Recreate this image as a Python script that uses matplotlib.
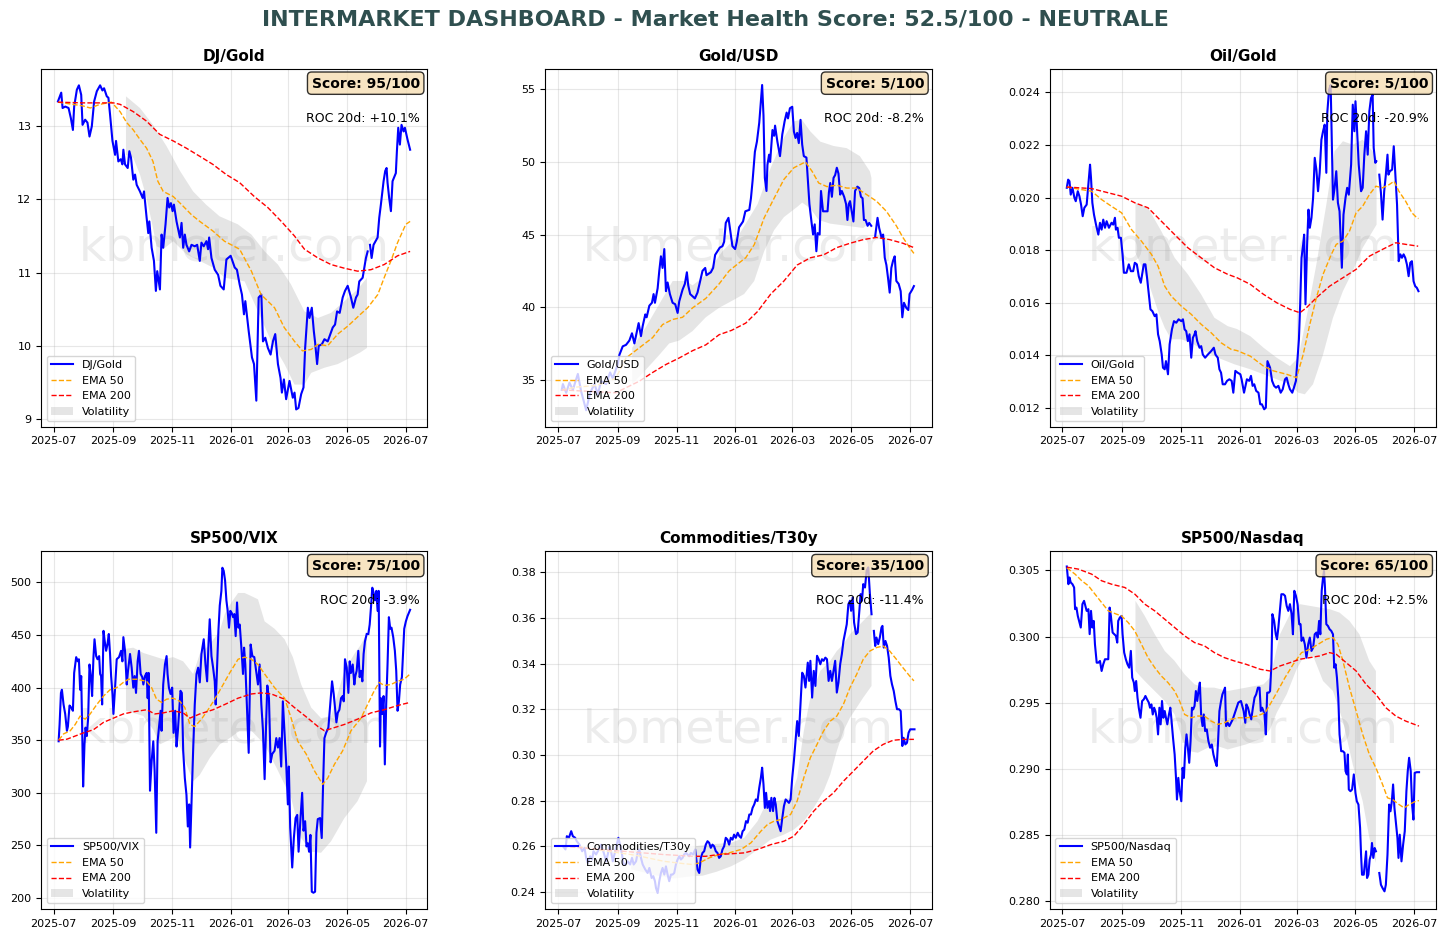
import numpy as np
import pandas as pd
import matplotlib
matplotlib.use('Agg')
import matplotlib.pyplot as plt
import matplotlib.dates as mdates
from matplotlib.patches import Patch

nan = float('nan')
BASE = pd.Timestamp('2025-07-01')   # day offsets below are counted from this date

# ---------------- chart texts ----------------
suptitle_text = 'INTERMARKET DASHBOARD - Market Health Score: 52.5/100 - NEUTRALE'
titles = ['DJ/Gold', 'Gold/USD', 'Oil/Gold', 'SP500/VIX', 'Commodities/T30y', 'SP500/Nasdaq']
scores = [95, 5, 5, 75, 35, 65]
roc20 = [10.1, -8.2, -20.9, -3.9, -11.4, 2.5]
ylims = [(8.895, 13.783), (31.77, 56.40), (0.01129, 0.024886),
         (189.5, 529.5), (0.2326, 0.3892), (0.27937, 0.30644)]

# ---------------- DJ/Gold ----------------
dj_price = [(4.5,13.34),(7.9,13.46),(9.3,13.25),(12.1,13.27),(15.5,13.25),(17.9,13.11),(20,12.95),(21.3,13.27),(24.1,13.50),(26.2,13.56),
(28.6,13.43),(30,13.02),(32.7,13.09),(35.1,13.05),(37.2,12.86),(39.6,13.00),(42,13.34),(44.8,13.48),(48.2,13.56),(50.6,13.49),
(52.3,13.52),(55.1,13.41),(56.8,13.39),(58.5,13.16),(61,12.80),(63.7,12.61),(64.7,12.80),(67.1,12.52),(69.6,12.55),(71.3,12.48),
(72.3,12.68),(74,12.48),(76.8,12.43),(78.5,12.66),(80.2,12.57),(82.6,12.27),(84.4,12.34),(86.1,12.20),(89.5,12.11),(92.3,12.02),
(93.7,12.11),(96.4,11.75),(98.1,11.54),(99.2,11.70),(101.6,11.34),(104,11.16),(106,10.75),(107.4,11.02),(110.2,10.77),(111.9,11.52),
(113.6,11.34),(116,11.66),(118.1,12.02),(119.8,11.89),(121.6,11.95),(123.3,11.84),(124.7,11.93),(127.4,11.70),(130.9,11.48),(132.6,11.68),
(134.3,11.34),(136,11.52),(137.7,11.38),(140.5,11.29),(142.9,11.38),(146.3,11.36),(148.8,11.38),(151.5,11.16),(153.2,11.41),(155.6,11.36),
(158.4,11.43),(160.1,11.32),(161.2,11.48),(163.6,11.20),(167,11.04),(170.5,10.97),(172.9,10.82),(176.3,10.77),(179.1,11.18),(183.5,11.23),
(187.7,11.07),(190,11.04),(192.8,10.84),(195.2,10.70),(197.3,10.43),(198.7,10.61),(202.2,10.20),(205.6,9.84),(207.7,9.75),(210.1,9.25),
(212.5,10.66),(215.3,10.70),(217,10.06),(219.4,10.11),(222.1,9.97),(224.9,9.88),(227.3,10.06),(229.7,10.16),(232.5,9.75),(235.2,9.56),
(236.6,9.36),(238.7,9.54),(241,9.27),(244.5,9.52),(247.9,9.29),(249.7,9.36),(251.4,9.13),(253.8,9.15),(256.6,9.34),(259,9.43),
(260.7,9.97),(263.5,10.52),(265.2,10.38),(267.6,10.52),(269.7,10.20),(271,10.05),(273.1,9.75),(274.8,10.00),(278,10.02),(280.7,10.09),
(284.1,10.06),(286.9,10.16),(289.3,10.25),(291.7,10.29),(293.8,10.47),(296.5,10.45),(299.6,10.66),(302,10.75),(304.8,10.82),(308.2,10.66),
(310.6,10.52),(313.4,10.66),(315.1,10.70),(316.8,10.88),(320.3,10.93),(323.7,11.20),(325.5,11.29),(326.7,nan),(327.9,11.38),(329.6,11.20),
(331.6,11.38),(335.8,11.48),(337.5,11.75),(339.2,11.93),(342,12.25),(343.7,12.39),(345.1,12.43),(346.1,12.23),(347.8,12.02),(349.6,11.84),
(351.3,12.25),(354.7,12.36),(355.8,12.66),(357.2,12.98),(358.9,12.75),(360.6,13.02),(362.7,12.93),(364.1,12.98),(366.8,12.82),(369.5,12.68)]
dj_ema50 = [(4.5,13.33),(20,13.30),(30,13.28),(38,13.25),(48,13.30),(60,13.33),(68.9,13.20),(75.8,13.05),(82.6,12.95),(89.5,12.82),
(96.4,12.70),(103,12.52),(108,12.25),(113.6,12.11),(124,12.04),(132.6,11.93),(143,11.79),(151.5,11.70),(165,11.57),(177,11.43),
(192.8,11.32),(205,11.02),(215,10.70),(229,10.52),(239,10.25),(249.7,10.06),(258,9.93),(267,9.95),(274,10.02),(284,10.00),
(294.5,10.16),(305,10.27),(318,10.43),(325.5,10.52),(336,10.70),(342.6,10.93),(349.6,11.16),(356.5,11.41),(365,11.66),(369.5,11.70)]
dj_ema200 = [(4.5,13.33),(31,13.32),(62,13.32),(68.9,13.30),(82.6,13.20),(96.4,13.07),(110,12.89),(124,12.80),(137.7,12.70),(151.5,12.59),
(165,12.48),(179,12.34),(192.8,12.23),(208,12.04),(222,11.89),(236,11.70),(249.7,11.50),(260,11.32),(274,11.20),(287.6,11.11),
(301.4,11.06),(315,11.02),(328.9,11.04),(342.6,11.11),(356.5,11.23),(369.5,11.29)]
dj_band_hi = [(75,13.41),(89.5,13.25),(103,13.02),(117,12.73),(131,12.39),(144.6,12.11),(158,11.93),(172,11.77),(191,11.66),(205,11.52),
(218.7,11.29),(232.5,11.11),(246,10.84),(260,10.47),(274,10.38),(287.6,10.45),(301.4,10.61),(315,10.77),(324.8,10.93)]
dj_band_lo = [(75,12.61),(82.6,12.57),(89.5,12.34),(96.4,12.02),(103,11.61),(106.7,11.36),(113.6,11.32),(124,11.43),(137.7,11.25),(151.5,11.16),
(165,11.07),(177.4,10.93),(198,10.88),(211.8,10.47),(225.6,10.06),(239.3,9.75),(249.7,9.47),(260,9.47),(267,9.63),(280.7,9.70),
(294.5,9.75),(308,9.84),(318,9.91),(324.8,9.97)]

# ---------------- Gold/USD ----------------
gu_price = [(4,34.3),(5.2,34.7),(8.6,34.1),(12,34.8),(15.5,34.3),(20.7,35.4),(24.1,34.2),(29.3,32.9),(33.4,34.1),(37.9,34.7),
(41.4,34.0),(44.8,34.9),(50,34.7),(54.1,35.5),(56.9,35.1),(62,36.05),(63.7,36.7),(67.2,37.3),(70.6,37.4),(74.1,37.7),
(76.8,38.2),(79.3,37.5),(82,38.35),(83.7,38.9),(86.1,38.0),(87.9,38.7),(90.6,39.5),(92,39.3),(94.8,40.1),(97.5,40.3),
(99.2,40.9),(100.6,40.3),(103.4,41.3),(105.1,42.5),(106.8,43.5),(108.5,42.7),(110.3,44.0),(112,41.1),(113.7,41.7),(116.1,40.9),
(118.9,40.3),(121.6,40.2),(124.1,39.6),(125.8,40.4),(129.2,41.2),(131.6,41.6),(133.7,42.4),(135.1,41.5),(137.1,40.9),(142,40.6),
(144.7,41.0),(147.1,41.7),(149.9,42.5),(152.7,42.7),(154,42.2),(158.5,42.4),(160.9,42.7),(163,43.6),(165.4,43.85),(167.8,44.1),
(170.6,44.2),(172.3,44.5),(174,45.8),(176.8,46.15),(178.5,45.35),(180.9,44.2),(183.7,44.0),(185.4,44.5),(187.8,45.5),(191.9,45.9),
(194.3,46.6),(198.4,46.7),(200.1,47.5),(201.8,48.7),(204.2,50.7),(206.3,51.4),(208.7,52.7),(210.4,54.2),(211.7,55.3),(213.1,53.2),
(214.5,48.9),(216.2,48.0),(217.2,49.8),(218.9,50.5),(220,50.0),(222.4,52.2),(224.1,51.8),(225.1,52.5),(227.5,51.4),(230.2,50.4),
(232.6,51.9),(235,52.8),(237.1,53.4),(238.5,53.0),(240.5,53.7),(242.9,53.8),(244.6,52.1),(246.3,51.65),(248,52.0),(249.7,51.3),
(251.5,52.9),(253.2,51.2),(254.9,50.4),(257.6,50.3),(259,48.9),(260.7,47.1),(262.8,45.9),(264.5,45.0),(266.2,45.7),(267.9,43.85),
(269.3,45.1),(271.3,45.0),(272.7,48.0),(274.8,46.6),(279.5,46.6),(280.9,47.9),(282.3,48.55),(284,47.6),(285.7,48.9),(287.4,49.1),
(289.1,49.6),(290.8,49.2),(292.6,47.75),(294.3,48.0),(296.7,47.6),(298.7,47.1),(300.1,46.0),(301.5,47.1),(302.8,47.3),(304.5,46.6),
(306.3,45.9),(308,48.0),(310.4,48.3),(312.4,48.2),(314.1,47.6),(315.8,47.5),(317.2,46.0),(318.9,46.0),(321,45.6),(322.7,45.8),
(324.8,45.6),(326.8,nan),(328.9,44.9),(331.3,46.15),(333,45.45),(335.4,44.8),(337.1,45.0),(338.8,43.4),(340.5,42.9),(342.2,42.0),
(343.9,41.0),(345.6,42.7),(347.4,43.2),(349.1,43.5),(350.8,41.8),(353.2,41.6),(355.3,41.1),(357,39.3),(358.7,40.3),(361.1,39.95),
(363.2,39.8),(364.5,40.9),(367.2,41.2),(369,41.45)]
gu_ema50 = [(4,34.3),(20,34.5),(40,34.6),(60,35.1),(70.6,36.5),(84.4,37.2),(98.2,37.9),(108.5,38.8),(118.9,39.15),(129.2,39.3),
(139.6,39.95),(153.3,40.6),(167.1,41.6),(177.5,42.5),(187.8,43.05),(194.7,43.4),(203.5,44.3),(213.8,46.15),(224.1,47.5),(234.3,48.8),
(244.6,49.6),(256.6,50.0),(263.5,49.35),(270.3,48.55),(278.9,48.3),(289.1,48.4),(299.4,48.2),(309.7,48.2),(320,47.75),(330.2,47.3),
(340.5,46.6),(350.8,45.6),(357.6,44.8),(364.5,44.1),(369,43.7)]
gu_ema200 = [(4,34.3),(60,34.1),(70.6,34.45),(84.4,34.9),(98.2,35.5),(112,36.05),(125.8,36.5),(139.6,37.0),(153.3,37.4),(167.1,38.1),
(180,38.4),(194.7,38.9),(207,39.7),(220.6,40.9),(234.3,41.8),(248,42.9),(261.7,43.4),(275.4,43.6),(289.1,44.1),(302.8,44.4),
(316.5,44.65),(330.2,44.8),(343.9,44.65),(357.6,44.4),(369,44.1)]
gu_band_hi = [(77,37.2),(91,38.6),(105,40.2),(119,41.8),(132.7,41.8),(139.6,41.5),(153,42.2),(170.6,43.85),(187.8,45.0),(207,47.1),
(220.6,49.6),(234,51.65),(244.6,52.8),(253,52.9),(261.7,52.1),(272,51.4),(285.7,51.1),(299.4,50.95),(313,50.4),(323.4,49.35),(325,48.9)]
gu_band_lo = [(77,34.7),(91.3,35.7),(105,36.7),(115.4,37.5),(125.8,37.7),(139.6,38.35),(153.3,39.3),(167,39.95),(179.5,40.4),(193,40.9),
(203.5,41.8),(213.8,43.85),(224.1,45.3),(234.3,46.2),(248,46.9),(253.2,47.2),(261.7,46.8),(270.3,46.0),(282.3,45.75),(299.4,45.6),
(316.5,45.45),(325,45.9)]

# ---------------- Oil/Gold ----------------
og_price = [(4.8,.02037),(6.2,.02068),(7.6,.02062),(8.9,.02011),(10.7,.02037),(12.7,.01999),(14.1,.01986),(16.2,.02024),(17.9,.02005),(19.6,.01973),
(21.3,.01929),(23,.01961),(25.4,.01973),(27.2,.02049),(28.9,.02125),(29.9,.02075),(31.3,.01980),(33,.01935),(35.1,.01897),(37.5,.01859),
(39.2,.01904),(40.9,.01878),(42.6,.01916),(44.4,.01885),(46.1,.01910),(48.5,.01885),(51.2,.01904),(52.9,.01897),(54.7,.01923),(55.7,.01878),
(57.4,.01885),(58.8,.01847),(60.9,.01847),(62.6,.01784),(64,.01714),(66.7,.01714),(69.1,.01746),(71.2,.01720),(73.6,.01720),(75.3,.01752),
(77.4,.01746),(79.4,.01701),(81.5,.01676),(82.9,.01708),(84.6,.01746),(86.3,.01746),(88,.01695),(89.8,.01632),(91.5,.01575),(93.5,.01568),
(95.9,.01549),(97.7,.01556),(99.4,.01480),(101.1,.01454),(103.2,.01403),(104.5,.01353),(106.3,.01347),(107.6,.01378),(109.7,.01328),(111.4,.01442),
(113.8,.01499),(115.9,.01530),(118.3,.01524),(120.7,.01537),(123.5,.01530),(125.2,.01537),(126.9,.01499),(128.6,.01492),(130.3,.01454),(132,.01480),
(133.8,.01391),(135.5,.01467),(137.2,.01480),(138.2,.01492),(140,.01454),(142.4,.01429),(144.1,.01435),(145.8,.01403),(148.2,.01391),(151,.01403),
(154.4,.01416),(157.2,.01429),(158.9,.01403),(161.3,.01391),(163,.01347),(164.7,.01334),(166.4,.01290),(168.8,.01290),(170.9,.01303),(173.3,.01309),
(175.7,.01303),(177.4,.01258),(179.5,.01341),(181.9,.01334),(184.7,.01328),(186,.01309),(188.5,.01258),(191.5,.01309),(193.9,.01303),(195.7,.01322),
(197.4,.01284),(199.1,.01290),(201.1,.01265),(203.5,.01258),(205.3,.01214),(207,.01214),(209.4,.01195),(211.1,.01201),(212.8,.01378),(215.5,.01353),
(217.6,.01303),(219.7,.01284),(221.7,.01277),(224.1,.01284),(226.5,.01258),(228.6,.01271),(231,.01309),(232.7,.01315),(234.4,.01290),(236.1,.01271),
(238.5,.01258),(240.2,.01277),(242.3,.01303),(244,.01391),(245.4,.01461),(246.7,.01594),(248.1,.01771),(249.8,.01822),(250.8,.01859),(252.2,.01594),
(253.9,.01822),(255.3,.01954),(256.7,.01885),(258.4,.01923),(260.1,.01999),(261.8,.02151),(263.5,.02106),(265.2,.02024),(266.9,.02094),(268.7,.02220),
(270.4,.02252),(272.1,.02277),(273.8,.02094),(274.8,.02322),(276.6,.02410),(278.3,.02428),(280.7,.01992),(282.4,.02037),(284.1,.02100),(285.8,.01980),
(287.5,.01948),(288.6,.01847),(289.9,.01733),(291.6,.01935),(293.7,.01999),(295.4,.02037),(297.1,.02011),(299.5,.02125),(301.2,.02353),(302.9,.02252),
(304,.02366),(305.4,.02277),(307.4,.02125),(309.8,.02024),(311.5,.02037),(313.2,.02163),(315,.02252),(316.7,.02163),(318.4,.02328),(320.1,.02378),
(321.8,.02391),(322.9,.02189),(324.6,.02132),(325.6,.02138),(327,nan),(328.7,.02087),(330.4,.02018),(332.1,.01916),(333.8,.02024),(335.5,.02087),
(337.2,.02163),(338.2,.02087),(339.6,.02100),(342,.02106),(343.7,.02195),(345.4,.02087),(347.1,.01973),(348.8,.01758),(350.5,.01784),(352.2,.01771),
(353.9,.01784),(355.6,.01771),(357.3,.01746),(359.1,.01701),(360.8,.01752),(362.5,.01758),(364.2,.01682),(365.9,.01663),(367.6,.01657),(369.3,.01644)]
og_ema50 = [(4.8,.02040),(20.3,.02030),(30.6,.02024),(41,.01992),(51,.01967),(61.6,.01942),(71.9,.01878),(82.2,.01834),(92.5,.01784),(99.4,.01739),
(106.3,.01663),(113.1,.01625),(123.5,.01587),(133.8,.01556),(144.1,.01518),(154.4,.01486),(164.7,.01448),(175,.01423),(181.3,.01418),(195,.01397),
(208.7,.01359),(219,.01341),(232.7,.01328),(243,.01315),(249.8,.01403),(256.7,.01518),(263.5,.01619),(270.4,.01708),(279,.01784),(284.1,.01822),
(291,.01834),(297.8,.01872),(304.7,.01942),(311.5,.01967),(318.4,.02011),(325.2,.02043),(332.1,.02037),(338.9,.02049),(344,.02062),(349,.02024),
(356,.01986),(362.5,.01942),(367.6,.01923),(369.3,.01920)]
og_ema200 = [(4.8,.02040),(30.6,.02034),(47.8,.02018),(61.6,.02005),(75.3,.01980),(89,.01961),(102.8,.01910),(116.6,.01859),(130.3,.01809),(144,.01771),
(157.8,.01733),(171.6,.01708),(181.3,.01695),(195,.01670),(208.7,.01632),(222.4,.01600),(236.1,.01575),(246.4,.01562),(253.2,.01581),(263.5,.01619),
(277.2,.01663),(291,.01695),(304.7,.01727),(318.4,.01777),(332.1,.01803),(345.8,.01828),(356,.01822),(369,.01815)]
og_band_hi = [(76,.01980),(89,.01961),(102.8,.01872),(116.6,.01771),(130.3,.01708),(144,.01632),(157.8,.01543),(171.6,.01511),(181.3,.01500),(195,.01473),
(208.7,.01429),(222.4,.01391),(236.1,.01359),(244.7,.01391),(253.2,.01543),(263.5,.01746),(273.8,.01973),(282.4,.02176),(291,.02214),(301.2,.02201),
(311.5,.02220),(321.8,.02176),(325.9,.02150)]
og_band_lo = [(76,.01790),(89,.01682),(99.4,.01568),(106.3,.01505),(113,.01461),(123.5,.01461),(133.8,.01448),(147.5,.01416),(161.3,.01391),(178.5,.01366),
(195,.01347),(208.7,.01328),(222.4,.01309),(236.1,.01290),(244.7,.01258),(251.5,.01252),(260,.01290),(270.4,.01403),(280.7,.01543),(291,.01644),
(301.2,.01720),(311.5,.01809),(321.8,.01872),(325.9,.01897)]

# ---------------- SP500/VIX ----------------
sv_price = [(5.2,349),(6.2,365),(7.6,395),(8.6,398),(10.3,384),(12,375),(13.8,359),(14.8,363),(16.5,383),(18.3,381),
(20,378),(21.3,414),(23.4,429),(25.1,425),(26.2,427),(27.5,398),(28.6,411),(29.6,362),(30.6,306),(32,346),
(33.1,362),(34.4,354),(35.8,371),(37.2,422),(38.6,411),(39.9,392),(41.3,429),(42.4,446),(44.1,430),(45.5,427),
(47.2,430),(48.2,413),(49.2,411),(50.3,384),(51.7,454),(53,444),(54.4,435),(55.8,441),(57.2,451),(58.5,432),
(59.6,411),(61,394),(62,375),(63.7,400),(65.4,427),(67.8,429),(69.9,435),(71.3,425),(72.3,448),(74,435),
(75.8,403),(77.1,416),(79.2,432),(80.9,419),(82.6,400),(84,411),(85.4,395),(87.1,425),(88.5,435),(90.2,413),
(91.9,410),(93,403),(94.7,411),(96.4,414),(97.5,390),(98.5,414),(99.9,302),(101.6,330),(103.3,349),(104.7,321),
(106.4,262),(107.8,349),(109.5,365),(110.9,378),(111.9,359),(113.6,403),(115.4,422),(117.1,430),(118.1,413),(119.5,400),
(121.2,394),(122.9,400),(124.3,357),(126,378),(127.4,344),(128.8,359),(130.2,378),(131.5,397),(132.9,395),(134.3,340),
(136,314),(137.7,298),(139.1,268),(140.5,289),(141.5,248),(142.9,289),(144.6,340),(146.3,384),(148.1,413),(149.8,419),
(151.5,405),(153.2,432),(155.6,446),(157.4,422),(159.1,406),(160.5,441),(161.8,465),(163.6,430),(165.3,419),(167,406),
(168,384),(169.4,419),(170.8,454),(172.2,478),(173.9,492),(174.9,514),(176.3,511),(177.7,502),(179.1,483),(180.4,473),
(181.8,457),(183.2,473),(184.6,471),(186,467),(187.3,470),(188.7,449),(190.1,481),(191.5,457),(192.9,460),(194.6,438),
(196.3,413),(197.4,438),(198.7,422),(200.5,378),(202.2,338),(204.2,441),(206,430),(208,429),(211.8,403),(213.5,422),
(215.3,384),(217,359),(218.7,313),(220.4,371),(221.5,402),(223.2,390),(224.9,329),(226.6,337),(229,340),(230.8,352),
(232.5,343),(234.2,352),(235.9,325),(237.6,387),(239.4,356),(241.1,327),(242.8,289),(243.8,325),(245.2,267),(247.3,229),
(249,257),(250.8,276),(252.5,279),(253.9,244),(255.9,276),(257.6,300),(259,264),(260.7,273),(262.1,249),(263.5,252),
(264.8,244),(266.2,260),(267.6,206),(269.3,205),(271,206),(272.4,262),(273.8,275),(276.2,276),(277.9,257),(279.3,308),
(280.7,352),(282.4,357),(284.8,362),(286.9,386),(288.6,406),(290.3,394),(292,378),(293.1,367),(294.5,376),(296.2,379),
(297.9,390),(299.6,392),(300.7,387),(302,427),(303.8,419),(305.5,395),(306.9,425),(308.2,414),(310,422),(311.7,403),
(312.7,411),(314.1,416),(315.8,435),(317.2,410),(318.6,416),(320,406),(321.3,432),(322.7,444),(324.5,451),(325.4,nan),
(326.2,451),(327.6,460),(328.9,476),(330.3,495),(331.7,490),(333.1,483),(334.5,492),(335.8,473),(336.9,492),(338.3,344),
(339.2,390),(340.6,375),(342,392),(343.3,327),(344.7,384),(346.1,422),(347.5,467),(348.9,456),(350.2,457),(352,448),
(353.7,435),(355.1,416),(356.5,378),(357.9,387),(359.2,403),(361,410),(362.3,435),(363.4,456),(365.1,463),(366.8,468),(369.5,474)]
sv_ema50 = [(5.2,350),(10.3,356),(17.2,359),(22.4,365),(27.5,373),(32.7,370),(37.9,375),(44.8,384),(51.7,392),(58.5,398),
(65.4,400),(72.3,405),(77.5,408),(86.1,408),(96.4,406),(101.6,400),(106.7,389),(111.9,386),(117.1,389),(124,390),
(130.9,387),(136,381),(141.2,365),(146.3,363),(153.2,370),(160.1,379),(167,389),(173.9,400),(182.5,414),(191.2,427),
(198,429),(205,427),(211.8,422),(218.7,413),(229,400),(239.4,390),(246.2,371),(253.1,349),(261.7,337),(270.3,321),
(278.9,308),(284.1,314),(291,327),(299.6,340),(308.2,359),(318.6,371),(325.4,384),(332.3,397),(337.5,405),(342.6,402),
(349.6,403),(356.5,406),(363.3,408),(369.5,413)]
sv_ema200 = [(5.2,350),(13.8,351),(22.4,354),(31,357),(41.3,360),(51.7,367),(62,371),(72.3,375),(82.6,377),(96.4,379),
(105,375),(113.6,376),(124,378),(134.3,376),(141.2,371),(151.5,375),(165.3,379),(177.4,384),(191.2,390),(205,394),
(215.3,395),(225.6,394),(239.4,389),(249.7,381),(263.5,371),(274,363),(280.7,359),(291,362),(301.4,365),(315,370),
(328.9,376),(342.6,379),(356.5,383),(369.5,386)]
sv_band_hi = [(75,437),(82.6,438),(93,433),(103.3,430),(113.6,427),(124,429),(134.3,425),(144.6,413),(151.5,432),(161.8,441),
(172.2,454),(177.4,470),(184.3,481),(191.2,490),(198,490),(205,487),(211.8,484),(218.7,463),(229,456),(239.4,446),
(248,429),(256.6,403),(267,381),(277.2,371),(287.6,373),(301.4,416),(311.7,432),(318.6,441),(324.8,452)]
sv_band_lo = [(75,378),(82.6,376),(93,373),(103.3,360),(110,346),(117,349),(127.4,354),(137.7,327),(144.6,311),(151.5,317),
(161.8,333),(172.2,346),(182.5,352),(192.8,359),(205,359),(218.7,346),(232.5,321),(246.2,295),(256.6,257),(267,244),
(277.2,243),(287.6,254),(301.4,276),(315,292),(324.8,311)]

# ---------------- Commodities/T30y ----------------
ct_price = [(5.2,.2601),(7.9,.2587),(9.3,.2645),(11.4,.2638),(13.8,.2667),(15.5,.2645),(17.9,.2638),(19.6,.2623),(22.4,.2608),(25.2,.2579),
(27.6,.2594),(29.3,.2550),(31,.2528),(33.4,.2557),(35.5,.2543),(36.9,.2579),(39.6,.2565),(42.4,.2587),(44.8,.2608),(46.5,.2587),
(48.6,.2557),(50,.2535),(51.7,.2565),(53.4,.2601),(55.1,.2579),(56.9,.2535),(58.6,.2565),(61,.2608),(62.7,.2638),(64.4,.2608),
(66.5,.2565),(67.9,.2521),(70,.2521),(72.4,.2535),(74.8,.2521),(76.8,.2550),(78.6,.2521),(81,.2535),(82.7,.2572),(84.4,.2587),
(86.1,.2550),(87.9,.2521),(90.6,.2499),(93,.2484),(94.8,.2506),(97.2,.2462),(98.9,.2470),(100.6,.2448),(101.7,.2418),(103.4,.2396),
(105.1,.2448),(106.8,.2484),(108.5,.2506),(110.3,.2477),(112,.2513),(113.7,.2477),(115.4,.2448),(117.2,.2477),(118.9,.2477),(120.6,.2484),
(122.3,.2521),(124.1,.2543),(125.8,.2557),(127.5,.2543),(129.2,.2550),(130.9,.2565),(132.7,.2572),(134.4,.2565),(136.1,.2557),(137.8,.2572),
(140.2,.2565),(142.3,.2587),(144.7,.2499),(146.5,.2484),(148.2,.2550),(149.9,.2572),(151.6,.2579),(153.3,.2608),(155.1,.2623),(156.8,.2616),
(158.5,.2594),(160.2,.2608),(161.9,.2601),(163.7,.2579),(165.4,.2572),(167.1,.2550),(168.8,.2557),(170.6,.2587),(172.3,.2601),(174,.2638),
(175.8,.2630),(177.5,.2608),(179.2,.2638),(181,.2630),(182.6,.2652),(184.4,.2638),(186.4,.2660),(188.1,.2645),(189.8,.2638),(191.5,.2667),
(193.2,.2674),(195,.2711),(196.7,.2704),(198.4,.2740),(200.1,.2740),(201.8,.2769),(203.5,.2784),(205.2,.2806),(206.9,.2799),(208.7,.2857),
(210.4,.2901),(211.7,.2945),(213.1,.2872),(214.5,.2769),(215.8,.2835),(217.2,.2769),(218.9,.2799),(219.9,.2755),(221.3,.2813),(223,.2755),
(224.4,.2813),(225.8,.2784),(227.5,.2711),(229.2,.2689),(230.9,.2667),(232.6,.2725),(234.3,.2777),(236.1,.2806),(237.8,.2799),(239.5,.2791),
(241.2,.2806),(242.9,.2901),(244.6,.2974),(246.3,.3062),(248,.3149),(249.7,.3084),(251.5,.3223),(253.2,.3361),(254.9,.3347),(256.6,.3296),
(257.6,.3339),(259,.3405),(260.4,.3325),(261.7,.3413),(263.5,.3252),(265.2,.3369),(266.9,.3303),(268.6,.3435),(270.3,.3420),(272,.3398),
(273.7,.3420),(275.4,.3413),(277.2,.3427),(278.9,.3420),(280.6,.3325),(282.3,.3369),(284,.3325),(285.7,.3369),(287.4,.3413),(289.1,.3274),
(290.8,.3318),(292.6,.3398),(294.3,.3442),(296,.3500),(297.7,.3537),(299.4,.3573),(301.1,.3661),(302.8,.3676),(303.9,.3632),(305.6,.3690),
(307,.3581),(309,.3530),(310.7,.3537),(312.4,.3632),(313.8,.3705),(315.2,.3676),(316.5,.3749),(318.3,.3734),(320,.3807),(321.7,.3822),
(323.4,.3705),(325.1,.3617),(326.3,nan),(327.5,.3544),(328.9,.3478),(330.2,.3515),(332,.3486),(333.7,.3515),(335.4,.3559),(336.4,.3566),
(337.8,.3471),(339.5,.3500),(341.2,.3478),(342.9,.3427),(344.6,.3347),(346.3,.3310),(348.1,.3281),(349.8,.3237),(351.5,.3201),(353.6,.3201),
(355.3,.3193),(357,.3040),(358.3,.3076),(360.1,.3047),(361.8,.3054),(363.5,.3098),(365.2,.3113),(367.9,.3113),(369.6,.3113)]
ct_ema50 = [(5.2,.2601),(20,.2600),(50,.2580),(80,.2562),(110,.2535),(130,.2525),(139.6,.2521),(146.5,.2528),(156.8,.2550),(167.1,.2565),
(177.5,.2572),(189.8,.2587),(200.1,.2616),(210.4,.2667),(217.2,.2696),(224.1,.2711),(230.9,.2718),(241.2,.2740),(248,.2799),(254.9,.2901),
(261.7,.2989),(268.6,.3047),(275.4,.3106),(282.3,.3149),(289.1,.3171),(296,.3223),(302.8,.3296),(309.7,.3354),(316.5,.3420),(323.4,.3456),
(330.2,.3471),(337.1,.3478),(343.9,.3456),(350.8,.3420),(357.6,.3383),(364.5,.3347),(369,.3325)]
ct_ema200 = [(5.2,.2601),(50,.2585),(108.5,.2565),(139.6,.2557),(153.3,.2557),(167.1,.2565),(179.5,.2568),(193.2,.2572),(207,.2587),(220.6,.2608),
(234.3,.2623),(244.6,.2645),(254.9,.2696),(265.2,.2755),(275.4,.2799),(285.7,.2835),(296,.2886),(306.3,.2930),(316.5,.2974),(326.8,.3018),
(337.1,.3047),(347.4,.3065),(357.6,.3069),(369,.3069)]
ct_band_hi = [(76,.2610),(100,.2595),(120,.2585),(140,.2600),(160,.2610),(179.5,.2616),(193.2,.2638),(207,.2711),(217.2,.2799),(227.5,.2799),
(234.3,.2806),(241.2,.2813),(248,.2901),(254.9,.3106),(261.7,.3252),(272,.3369),(282.3,.3413),(289.1,.3456),(296,.3486),(302.8,.3530),
(313.1,.3573),(320,.3603),(325.1,.3625)]
ct_band_lo = [(76,.2500),(100,.2475),(120,.2460),(140,.2470),(150,.2472),(165,.2490),(179.5,.2513),(193.2,.2543),(207,.2587),(220.6,.2630),
(234.3,.2652),(244.6,.2674),(254.9,.2711),(265.2,.2769),(275.4,.2842),(282.3,.2915),(289.1,.3018),(296,.3106),(302.8,.3164),(309.7,.3208),
(316.5,.3252),(325.1,.3303)]

# ---------------- SP500/Nasdaq ----------------
sn_price = [(4.8,.30530),(6.5,.30396),(7.6,.30447),(8.9,.30409),(10.7,.30396),(12.4,.30371),(13.4,.30207),(14.8,.30219),(16.2,.30156),(17.5,.30118),
(19.3,.30068),(21,.30245),(22.7,.30270),(24.1,.30232),(25.4,.30194),(27.2,.30207),(28.5,.30018),(29.9,.30194),(31.3,.30068),(32.7,.30118),
(34,.29941),(35.8,.29802),(37.5,.29802),(39.2,.29815),(40.9,.29739),(42.6,.29790),(44.4,.29828),(46.1,.29828),(47.8,.29828),(49.2,.30219),
(50.5,.30156),(52.3,.30030),(54,.30017),(55.7,.30005),(57.1,.29954),(58.1,.30118),(59.8,.30144),(61.6,.30156),(62.6,.30017),(64.3,.29878),
(66,.29828),(67.7,.29790),(69.5,.29764),(71.2,.29891),(72.6,.29689),(74.3,.29651),(75.3,.29587),(76.7,.29663),(78.1,.29537),(79.4,.29461),
(81.2,.29385),(82.9,.29512),(84.6,.29524),(86.3,.29550),(88,.29524),(89.8,.29500),(91.1,.29461),(92.5,.29486),(93.9,.29410),(95.3,.29461),
(96.6,.29436),(98,.29385),(99.4,.29259),(100.8,.29461),(102.1,.29335),(103.5,.29512),(104.9,.29385),(106.3,.29436),(107.6,.29385),(109,.29335),
(110.7,.29410),(112.1,.29461),(113.1,.29385),(114.9,.29234),(116.6,.29107),(118,.28930),(119,.28766),(120.4,.28930),(121.7,.28829),(123.5,.28753),
(124.8,.29006),(126.2,.28930),(127.6,.29158),(128.9,.29259),(130.3,.29158),(131.7,.29044),(133.1,.29208),(134.5,.29461),(135.8,.29448),(137.2,.29474),
(138.6,.29587),(140,.29512),(141.3,.29587),(142.7,.29651),(144.1,.29398),(145.5,.29322),(146.8,.29410),(148.2,.29284),(149.9,.29297),(151.6,.29208),
(153.4,.29158),(155.1,.29183),(156.8,.29107),(158.5,.29057),(160.2,.29019),(161.6,.29208),(163,.29436),(164.7,.29512),(166.1,.29562),(167.5,.29587),
(168.8,.29613),(169.9,.29322),(171.6,.29347),(173.3,.29322),(175,.29347),(176.8,.29373),(178.5,.29410),(180.2,.29448),(182.6,.29500),(185.3,.29512),
(188.1,.29436),(189.8,.29347),(190.9,.29486),(192.6,.29461),(194.3,.29410),(196,.29373),(197.7,.29461),(199.4,.29537),(201.1,.29562),(202.9,.29613),
(204.6,.29613),(205.9,.29436),(207.3,.29461),(208.6,.29436),(209.7,.29410),(211.1,.29259),(212.5,.29575),(214.2,.29575),(215.5,.29587),(216.9,.29790),
(217.9,.30169),(219.7,.30118),(221.4,.30017),(222.7,.29979),(224.1,.30068),(225.8,.30207),(227.2,.30320),(229.3,.30320),(231,.30308),(232.7,.30232),
(234.4,.30194),(236.1,.30245),(237.8,.30169),(239.2,.30017),(240.6,.30346),(242.3,.30308),(244,.30245),(245.7,.30093),(247.1,.30093),(248.1,.29967),
(249.8,.29992),(251.5,.29941),(253.2,.29840),(255,.29941),(256.7,.29992),(258.4,.29891),(260.1,.29916),(261.8,.30017),(263.5,.30030),(264.9,.29992),
(266.3,.30118),(267.6,.30017),(269,.30346),(270.4,.30447),(271.4,.30497),(272.4,.30371),(273.8,.30093),(275.5,.30080),(277.2,.30055),(278.9,.30043),
(280.7,.30017),(282,.29764),(283.4,.29790),(284.8,.29689),(286.2,.29537),(287.5,.29259),(289.2,.29132),(290.9,.29132),(292.6,.29120),(293.7,.28981),
(295.1,.28956),(296.1,.29107),(297.1,.28842),(298.8,.28829),(300.5,.28842),(302.3,.28956),(304,.28816),(305.4,.28753),(307.1,.28728),(308.8,.28551),
(309.8,.28349),(310.8,.28197),(312.6,.28197),(313.6,.28273),(315,.28374),(316,.28172),(317.4,.28197),(318.7,.28311),(320.1,.28349),(321.1,.28437),
(322.5,.28324),(323.9,.28399),(325.2,.28374),(327,nan),(328.7,.28210),(330.4,.28121),(332.1,.28096),(334.1,.28071),(335.5,.28121),(337.2,.28349),
(338.9,.28728),(340.3,.28677),(341.7,.28753),(343,.28880),(344.4,.28703),(345.8,.28602),(347.5,.28475),(348.6,.28324),(349.9,.28500),(351.7,.28298),
(353.4,.28425),(355.1,.28526),(356.8,.28829),(358.2,.28981),(359.6,.29082),(361.3,.28981),(362.7,.28728),(364.1,.28614),(365.4,.28968),(367.5,.28973),
(369.9,.28973)]
sn_ema50 = [(4.8,.30520),(13.4,.30472),(20.3,.30422),(27.2,.30384),(34,.30321),(40.9,.30257),(47.8,.30194),(56.4,.30169),(61.6,.30156),(68.4,.30106),
(75.3,.30042),(82.2,.29941),(89,.29840),(96,.29764),(102.8,.29701),(109.7,.29651),(116.6,.29587),(121.7,.29512),(126.9,.29410),(133.8,.29385),
(140.6,.29398),(147.5,.29398),(154.4,.29360),(161.3,.29335),(168.2,.29347),(175,.29373),(181.9,.29385),(191.5,.29385),(201.8,.29398),(210.4,.29423),
(215.5,.29486),(222.4,.29575),(231,.29689),(239.5,.29790),(248.1,.29878),(256.7,.29903),(265.2,.29941),(273.8,.29979),(280.7,.29992),(285.8,.29941),
(291,.29815),(297.8,.29613),(304.7,.29436),(311.5,.29259),(318.4,.29107),(325.2,.29006),(332.1,.28880),(337.2,.28779),(342.4,.28766),(349.2,.28728),
(354.4,.28703),(359.6,.28728),(366.4,.28753),(369.8,.28758)]
sn_ema200 = [(4.8,.30525),(16.9,.30510),(30.6,.30472),(40.9,.30422),(51.2,.30396),(65,.30371),(75.3,.30321),(85.6,.30245),(96,.30194),(106.3,.30131),
(116.6,.30068),(126.9,.30005),(137.2,.29954),(147.5,.29929),(157.8,.29878),(168.2,.29840),(178.5,.29815),(190.5,.29790),(205.3,.29752),(215.5,.29739),
(225.8,.29777),(236.1,.29802),(246.4,.29828),(256.7,.29840),(267,.29853),(277.2,.29878),(284,.29866),(294.4,.29802),(304.7,.29739),(315,.29638),
(325.2,.29562),(335.5,.29461),(345.8,.29398),(356,.29360),(369.8,.29322)]
sn_band_hi = [(76,.30270),(85.6,.30156),(96,.30017),(106.3,.29891),(116.6,.29815),(126.9,.29714),(137.2,.29638),(147.5,.29613),(157.8,.29613),(171.6,.29587),
(190.5,.29613),(208.7,.29638),(215.5,.29689),(225.8,.30017),(236.1,.30169),(246.4,.30245),(256.7,.30232),(267,.30219),(277.2,.30207),(287.5,.30181),
(297.8,.30118),(308.1,.30017),(318.4,.29815),(325.2,.29739)]
sn_band_lo = [(76,.29739),(85.6,.29663),(96,.29587),(106.3,.29512),(116.6,.29410),(125.2,.29208),(132,.29132),(140.6,.29120),(151,.29158),(161.3,.29170),
(171.6,.29145),(190.5,.29183),(208.7,.29234),(215.5,.29297),(222.4,.29423),(232.7,.29562),(243,.29752),(249.8,.29840),(260.1,.29853),(270.4,.29663),
(280.7,.29587),(291,.29360),(301.2,.29031),(311.5,.28753),(318.4,.28475),(325.2,.28286)]

panels = [
    (dj_price, dj_ema50, dj_ema200, dj_band_hi, dj_band_lo),
    (gu_price, gu_ema50, gu_ema200, gu_band_hi, gu_band_lo),
    (og_price, og_ema50, og_ema200, og_band_hi, og_band_lo),
    (sv_price, sv_ema50, sv_ema200, sv_band_hi, sv_band_lo),
    (ct_price, ct_ema50, ct_ema200, ct_band_hi, ct_band_lo),
    (sn_price, sn_ema50, sn_ema200, sn_band_hi, sn_band_lo),
]


def split(pairs):
    d = np.array([p[0] for p in pairs], dtype=float)
    v = np.array([p[1] for p in pairs], dtype=float)
    return BASE + pd.to_timedelta(d, unit='D'), v


fig, axes = plt.subplots(2, 3, figsize=(14.46, 9.39), dpi=100)
fig.subplots_adjust(left=0.0284, right=0.9931, top=0.9265, bottom=0.0319,
                    wspace=0.305, hspace=0.349)

for i, ax in enumerate(axes.flat):
    price, e50, e200, bhi, blo = panels[i]
    ax.text(0.5, 0.5, 'kbmeter.com', transform=ax.transAxes, fontsize=34,
            color='gray', alpha=0.15, ha='center', va='center', zorder=0)
    x, y = split(price)
    h1, = ax.plot(x, y, color='blue', lw=1.5, label=titles[i], zorder=3)
    x, y = split(e50)
    h2, = ax.plot(x, y, color='orange', ls='--', lw=1, label='EMA 50', zorder=3)
    x, y = split(e200)
    h3, = ax.plot(x, y, color='red', ls='--', lw=1, label='EMA 200', zorder=3)
    xh, yh = split(bhi)
    xl, yl = split(blo)
    bx = np.concatenate([mdates.date2num(xh), mdates.date2num(xl)[::-1]])
    by = np.concatenate([yh, yl[::-1]])
    ax.fill(bx, by, color='gray', alpha=0.2, lw=0, zorder=1)
    h4 = Patch(facecolor='gray', alpha=0.2, label='Volatility')

    ax.set_title(titles[i], fontsize=11, fontweight='bold')
    ax.text(0.98, 0.98, f'Score: {scores[i]}/100', transform=ax.transAxes,
            fontsize=10, fontweight='bold', ha='right', va='top', zorder=6,
            bbox=dict(boxstyle='round', facecolor='wheat', alpha=0.8))
    ax.text(0.98, 0.88, f'ROC 20d: {roc20[i]:+.1f}%', transform=ax.transAxes,
            fontsize=9, ha='right', va='top', zorder=6)
    ax.legend(handles=[h1, h2, h3, h4], loc='lower left', fontsize=8)
    ax.grid(True, alpha=0.3)
    ax.xaxis.set_major_locator(mdates.MonthLocator(bymonth=[1, 3, 5, 7, 9, 11]))
    ax.xaxis.set_major_formatter(mdates.DateFormatter('%Y-%m'))
    ax.set_xlim(BASE + pd.Timedelta(days=-13), BASE + pd.Timedelta(days=387.5))
    ax.set_ylim(*ylims[i])
    ax.tick_params(labelsize=8)

fig.suptitle(suptitle_text, fontsize=16, fontweight='bold', color='darkslategray',
             x=0.495, y=0.99, va='top')
fig.savefig('out.png', dpi=100)
